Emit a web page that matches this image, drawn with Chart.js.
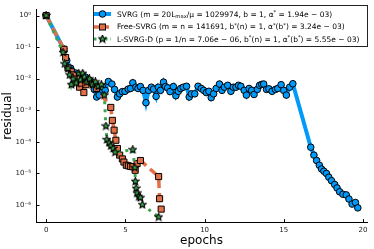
<!DOCTYPE html>
<html><head><meta charset="utf-8">
<script src="https://cdn.jsdelivr.net/npm/chart.js@4.4.0/dist/chart.umd.min.js"></script>
<style>
html,body{margin:0;padding:0;background:#fff;}
#wrap{position:relative;width:374px;height:249px;}
#legend{position:absolute;left:93px;top:5px;width:275px;height:42px;border:1px solid #222;background:#fff;box-sizing:border-box;font-family:'DejaVu Sans';font-size:7.5px;color:#000;padding-top:2px}
.row{height:12.5px;display:flex;align-items:center;white-space:nowrap}
.row canvas{width:20px;height:12px;margin-right:3px;flex:none}
sub,sup{font-size:70%;position:relative;vertical-align:baseline;line-height:0}
sub{top:0.3em} sup{top:-0.45em}
</style></head>
<body><div id="wrap"><canvas id="c" width="374" height="249"></canvas><div id="legend"></div></div>
<script>
// ---- data ----
const xTicks = [0, 5, 10, 15, 20];
const yTickExps = [0, -1, -2, -3, -4, -5, -6];
const yTickLabels = ['10⁰', '10⁻¹', '10⁻²', '10⁻³', '10⁻⁴', '10⁻⁵', '10⁻⁶'];
const xTitle = 'epochs';
const yTitle = 'residual';
const seriesLabels = [
  'SVRG (m = 20L<sub>max</sub>/μ = 1029974, b = 1, α<sup>*</sup> = 1.94e − 03)',
  'Free-SVRG (m = n = 141691, b<sup>*</sup>(n) = 1, α<sup>*</sup>(b<sup>*</sup>) = 3.24e − 03)',
  'L-SVRG-D (p = 1/n = 7.06e − 06, b<sup>*</sup>(n) = 1, α<sup>*</sup>(b<sup>*</sup>) = 5.55e − 03)'
];

const svrgEpochs = [0,1.11,1.30,1.55,1.86,2.17,2.48,2.79,3.04,3.19,3.35,3.56,3.73,3.93,4.15,4.32,4.50,4.64,4.81,4.98,5.18,5.33,5.47,5.66,5.80,5.95,6.12,6.30,6.47,6.64,6.78,6.94,7.08,7.22,7.41,7.53,7.67,7.82,8.03,8.19,8.34,8.49,8.65,8.86,9.03,9.17,9.38,9.59,9.79,9.94,10.11,10.27,10.42,10.57,10.73,10.94,11.10,11.25,11.46,11.66,11.81,11.98,12.14,12.29,12.50,12.64,12.81,12.97,13.12,13.33,13.47,13.61,13.73,13.91,14.06,14.26,14.47,14.62,14.83,14.99,15.16,15.37,15.57,16.70,16.90,17.07,17.24,17.38,17.53,17.69,17.84,18.01,18.21,18.36,18.52,18.73,18.94,19.11,19.31,19.52,19.67];
const svrgLogRes = [0,-1.06,-1.42,-1.67,-1.82,-1.91,-1.95,-2.07,-2.34,-2.58,-2.52,-2.26,-2.37,-2.09,-2.17,-2.34,-2.58,-2.48,-2.41,-2.40,-2.33,-2.31,-2.13,-2.27,-2.31,-2.25,-2.37,-2.76,-2.37,-2.27,-2.33,-2.56,-2.27,-2.37,-2.11,-2.25,-2.29,-2.41,-2.25,-2.54,-2.40,-2.31,-2.27,-2.24,-2.58,-2.48,-2.48,-2.24,-2.31,-2.37,-2.44,-2.40,-2.60,-2.48,-2.31,-2.17,-2.37,-2.27,-2.21,-2.40,-2.27,-2.27,-2.21,-2.24,-2.37,-2.52,-2.31,-2.37,-2.50,-2.34,-2.21,-2.18,-2.17,-2.34,-2.32,-2.40,-2.34,-2.31,-2.19,-2.37,-2.52,-2.27,-2.16,-4.17,-4.42,-4.59,-4.74,-4.86,-4.93,-5.00,-5.12,-5.23,-5.35,-5.46,-5.58,-5.66,-5.68,-5.81,-5.97,-5.92,-6.09];

const freeEpochs = [0,1.13,1.23,1.38,1.59,1.73,1.92,2.11,2.23,2.38,2.51,2.69,2.94,3.17,4.08,4.18,4.29,4.40,4.50,4.64,4.81,4.91,5.06,5.19,5.33,5.47,5.62,5.74,5.95,7.10,7.16,7.26];
const freeLogRes = [0,-1.07,-1.33,-1.66,-1.78,-1.88,-2.01,-2.27,-2.14,-2.44,-2.19,-2.07,-2.14,-2.31,-2.91,-3.32,-3.63,-3.95,-4.21,-4.42,-4.54,-4.64,-4.74,-4.76,-4.78,-4.79,-4.90,-4.69,-4.59,-5.10,-5.80,-6.13];

const lsvrgEpochs = [0,1.07,1.17,1.38,1.48,1.59,1.70,1.90,2.06,2.17,2.31,2.42,2.56,2.73,2.92,3.11,3.29,3.48,3.67,3.77,3.83,3.98,4.08,4.23,4.35,5.47,5.60,5.63,5.68,5.74,5.85,5.95,6.07,7.10];
const lsvrgLogRes = [0,-1.17,-1.53,-1.68,-1.88,-2.19,-2.01,-2.14,-1.83,-2.04,-1.83,-1.95,-2.11,-2.01,-2.19,-2.10,-2.25,-2.19,-2.52,-3.50,-3.93,-4.03,-4.13,-4.21,-4.33,-4.25,-4.82,-5.25,-5.47,-5.62,-5.74,-5.77,-5.99,-6.38];

// ---- styles ----
const BLUE = '#009AFA', ORANGE = '#E36F47', GREEN = '#3EA44E';

function makeStar(size, fill) {
  const c = document.createElement('canvas');
  c.width = c.height = size;
  const g = c.getContext('2d');
  const cx = size / 2, cy = size / 2, R = size / 2 - 0.6, r = R * 0.45;
  g.beginPath();
  for (let i = 0; i < 10; i++) {
    const a = -Math.PI / 2 + i * Math.PI / 5, rr = i % 2 ? r : R;
    g.lineTo(cx + rr * Math.cos(a), cy + rr * Math.sin(a));
  }
  g.closePath();
  g.fillStyle = fill; g.fill();
  g.strokeStyle = '#000'; g.lineWidth = 1.1; g.stroke();
  return c;
}
const starImg = makeStar(9, GREEN);

function pts(xs, ls) { return xs.map((x, i) => ({ x: x, y: Math.pow(10, ls[i]) })); }

const datasets = [
  { data: pts(svrgEpochs, svrgLogRes), borderColor: BLUE, borderWidth: 4, pointStyle: 'circle',
    pointRadius: 3.3, pointBackgroundColor: BLUE, pointBorderColor: '#000', pointBorderWidth: 1, order: 3 },
  { data: pts(freeEpochs, freeLogRes), borderColor: ORANGE, borderWidth: 3.5, borderDash: [9, 5], pointStyle: 'rect',
    pointRadius: 4.3, pointBackgroundColor: ORANGE, pointBorderColor: '#000', pointBorderWidth: 1, order: 2 },
  { data: pts(lsvrgEpochs, lsvrgLogRes), borderColor: GREEN, borderWidth: 3, borderDash: [3, 5], pointStyle: starImg,
    pointRadius: 4, order: 1 }
];

const tickMarks = {
  id: 'tickMarks',
  afterDraw(chart) {
    const g = chart.ctx, xs = chart.scales.x, ys = chart.scales.y, a = chart.chartArea;
    g.save(); g.strokeStyle = '#000'; g.lineWidth = 1;
    xTicks.forEach(v => { const p = Math.round(xs.getPixelForValue(v)) + 0.5; g.beginPath(); g.moveTo(p, a.bottom); g.lineTo(p, a.bottom - 3.5); g.stroke(); });
    yTickExps.forEach(e => { const p = Math.round(ys.getPixelForValue(Math.pow(10, e))) + 0.5; g.beginPath(); g.moveTo(a.left, p); g.lineTo(a.left + 3.5, p); g.stroke(); });
    g.restore();
  }
};

new Chart(document.getElementById('c'), {
  type: 'line',
  data: { datasets: datasets },
  options: {
    responsive: false, animation: false, devicePixelRatio: 1,
    layout: { padding: { left: 0, right: 3, top: 2, bottom: 0 } },
    plugins: { legend: { display: false }, tooltip: { enabled: false } },
    elements: { line: { tension: 0, fill: false } },
    scales: {
      x: {
        type: 'linear', min: -0.64, max: 20.25,
        afterBuildTicks: s => { s.ticks = xTicks.map(v => ({ value: v })); },
        afterFit: s => { s.height = 26.3; },
        grid: { display: false, drawTicks: false },
        border: { display: true, color: '#000', width: 1 },
        ticks: { autoSkip: false, maxRotation: 0, padding: 3, color: '#222', font: { family: 'DejaVu Sans', size: 7 } },
        title: { display: true, text: xTitle, color: '#000', font: { family: 'DejaVu Sans', size: 12 }, padding: { top: 0, bottom: 1 } }
      },
      y: {
        type: 'logarithmic', min: Math.pow(10, -6.56), max: Math.pow(10, 0.2),
        afterBuildTicks: s => { s.ticks = yTickExps.map(e => ({ value: Math.pow(10, e) })); },
        afterFit: s => { s.width = 36; },
        grid: { display: false, drawTicks: false },
        border: { display: true, color: '#000', width: 1 },
        ticks: { autoSkip: false, padding: 5, color: '#222', font: { family: 'DejaVu Sans', size: 7 },
          callback: v => { const e = Math.round(Math.log10(v)); const i = yTickExps.indexOf(e); return i >= 0 ? yTickLabels[i] : ''; } },
        title: { display: true, text: yTitle, color: '#000', font: { family: 'DejaVu Sans', size: 12 }, padding: { top: 1, bottom: 0 } }
      }
    }
  },
  plugins: [tickMarks]
});

// ---- legend ----
const legendStyles = [
  { color: BLUE, width: 4, dash: [], marker: 'circle' },
  { color: ORANGE, width: 3.5, dash: [6, 3], marker: 'rect' },
  { color: GREEN, width: 3, dash: [2.5, 3], marker: 'star' }
];
const leg = document.getElementById('legend');
seriesLabels.forEach((txt, i) => {
  const row = document.createElement('div'); row.className = 'row';
  const cv = document.createElement('canvas'); cv.width = 20; cv.height = 12;
  const g = cv.getContext('2d'), st = legendStyles[i];
  g.strokeStyle = st.color; g.lineWidth = st.width; g.setLineDash(st.dash);
  g.beginPath(); g.moveTo(0, 6); g.lineTo(17, 6); g.stroke(); g.setLineDash([]);
  g.lineWidth = 1; g.strokeStyle = '#000';
  if (st.marker === 'circle') { g.beginPath(); g.arc(8.5, 6, 3.3, 0, Math.PI * 2); g.fillStyle = st.color; g.fill(); g.stroke(); }
  else if (st.marker === 'rect') { g.fillStyle = st.color; g.fillRect(5.5, 3, 6, 6); g.strokeRect(5.5, 3, 6, 6); }
  else { g.drawImage(starImg, 4, 1.5); }
  const span = document.createElement('span'); span.innerHTML = txt;
  row.appendChild(cv); row.appendChild(span); leg.appendChild(row);
});
</script>
</body></html>
